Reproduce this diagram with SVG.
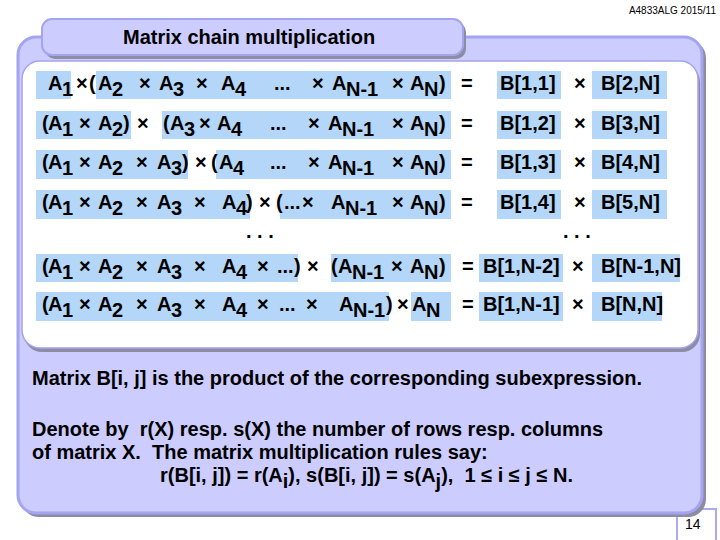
<svg xmlns="http://www.w3.org/2000/svg" width="720" height="540" viewBox="0 0 720 540">
<style>
.t{font-family:"Liberation Sans",Arial,sans-serif;font-weight:bold;font-size:20px;fill:#000}
.hl{fill:#b4d6f8}
.lav{fill:#ccccff;stroke:#a4a4f0;stroke-width:3}
.sh{fill:#8c8ca2}
.pre{white-space:pre}
</style>
<rect width="720" height="540" fill="#ffffff"/>
<text x="716" y="14" text-anchor="end" style="font-family:'Liberation Sans',Arial,sans-serif;font-size:10px;fill:#000">A4833ALG 2015/11</text>

<g id="page-number">
<rect x="677" y="509" width="39" height="34" fill="#ffffff" stroke="#aaaaee" stroke-width="2"/>
<text x="685" y="529" style="font-family:'Liberation Sans',Arial,sans-serif;font-size:14px;fill:#000">14</text>
</g>

<g id="panel">
<rect class="sh" x="21" y="40" width="685" height="477" rx="18"/>
<rect class="lav" x="18" y="37" width="684" height="476" rx="18"/>
<rect class="sh" x="24" y="64" width="676" height="288" rx="18"/>
<rect x="22" y="61" width="676" height="287" rx="18" fill="#ffffff" stroke="#a4a4f0" stroke-width="1.5"/>
</g>

<g id="title">
<rect class="sh" x="45" y="22" width="421" height="37" rx="10"/>
<rect class="lav" x="42" y="19" width="421" height="36" rx="10" style="stroke-width:2"/>
<text class="t" x="123" y="44">Matrix chain multiplication</text>
</g>

<g id="row1">
<rect class="hl" x="36" y="71" width="35" height="28"/>
<rect class="hl" x="96" y="71" width="355" height="28"/>
<rect class="hl" x="497" y="71" width="64" height="28"/>
<rect class="hl" x="592" y="71" width="75" height="28"/>
<text class="t"><tspan x="48" y="90">A</tspan><tspan x="62" y="96">1</tspan><tspan x="76" y="90">×</tspan><tspan x="89" y="90">(</tspan><tspan x="98" y="90">A</tspan><tspan x="112" y="96">2</tspan><tspan x="139" y="90">×</tspan><tspan x="159" y="90">A</tspan><tspan x="173" y="96">3</tspan><tspan x="196" y="90">×</tspan><tspan x="221" y="90">A</tspan><tspan x="235" y="96">4</tspan><tspan x="274" y="90">...</tspan><tspan x="312" y="90">×</tspan><tspan x="332" y="90">A</tspan><tspan x="346" y="96">N-1</tspan><tspan x="392" y="90">×</tspan><tspan x="410" y="90">A</tspan><tspan x="424" y="96">N</tspan><tspan x="439" y="90">)</tspan><tspan x="461" y="90">=</tspan><tspan x="500" y="90">B[1,1]</tspan><tspan x="574" y="90">×</tspan><tspan x="601" y="90">B[2,N]</tspan></text>
</g>

<g id="row2">
<rect class="hl" x="36" y="111" width="95" height="28"/>
<rect class="hl" x="162" y="111" width="289" height="28"/>
<rect class="hl" x="497" y="111" width="64" height="28"/>
<rect class="hl" x="592" y="111" width="75" height="28"/>
<text class="t"><tspan x="42" y="130">(</tspan><tspan x="48" y="130">A</tspan><tspan x="62" y="136">1</tspan><tspan x="79" y="130">×</tspan><tspan x="98" y="130">A</tspan><tspan x="112" y="136">2</tspan><tspan x="123" y="130">)</tspan><tspan x="137" y="130">×</tspan><tspan x="163" y="130">(</tspan><tspan x="170" y="130">A</tspan><tspan x="184" y="136">3</tspan><tspan x="199" y="130">×</tspan><tspan x="217" y="130">A</tspan><tspan x="231" y="136">4</tspan><tspan x="270" y="130">...</tspan><tspan x="308" y="130">×</tspan><tspan x="328" y="130">A</tspan><tspan x="342" y="136">N-1</tspan><tspan x="392" y="130">×</tspan><tspan x="410" y="130">A</tspan><tspan x="424" y="136">N</tspan><tspan x="439" y="130">)</tspan><tspan x="461" y="130">=</tspan><tspan x="500" y="130">B[1,2]</tspan><tspan x="574" y="130">×</tspan><tspan x="601" y="130">B[3,N]</tspan></text>
</g>

<g id="row3">
<rect class="hl" x="36" y="150" width="152" height="29"/>
<rect class="hl" x="216" y="150" width="235" height="29"/>
<rect class="hl" x="497" y="150" width="64" height="29"/>
<rect class="hl" x="592" y="150" width="75" height="29"/>
<text class="t"><tspan x="42" y="169">(</tspan><tspan x="48" y="169">A</tspan><tspan x="62" y="175">1</tspan><tspan x="79" y="169">×</tspan><tspan x="98" y="169">A</tspan><tspan x="112" y="175">2</tspan><tspan x="136" y="169">×</tspan><tspan x="157" y="169">A</tspan><tspan x="171" y="175">3</tspan><tspan x="182" y="169">)</tspan><tspan x="195" y="169">×</tspan><tspan x="211" y="169">(</tspan><tspan x="219" y="169">A</tspan><tspan x="233" y="175">4</tspan><tspan x="270" y="169">...</tspan><tspan x="308" y="169">×</tspan><tspan x="328" y="169">A</tspan><tspan x="342" y="175">N-1</tspan><tspan x="392" y="169">×</tspan><tspan x="410" y="169">A</tspan><tspan x="424" y="175">N</tspan><tspan x="439" y="169">)</tspan><tspan x="461" y="169">=</tspan><tspan x="500" y="169">B[1,3]</tspan><tspan x="574" y="169">×</tspan><tspan x="601" y="169">B[4,N]</tspan></text>
</g>

<g id="row4">
<rect class="hl" x="36" y="190" width="214" height="29"/>
<rect class="hl" x="280" y="190" width="171" height="29"/>
<rect class="hl" x="497" y="190" width="64" height="29"/>
<rect class="hl" x="592" y="190" width="75" height="29"/>
<text class="t"><tspan x="42" y="209">(</tspan><tspan x="48" y="209">A</tspan><tspan x="62" y="215">1</tspan><tspan x="79" y="209">×</tspan><tspan x="98" y="209">A</tspan><tspan x="112" y="215">2</tspan><tspan x="136" y="209">×</tspan><tspan x="157" y="209">A</tspan><tspan x="171" y="215">3</tspan><tspan x="194" y="209">×</tspan><tspan x="222" y="209">A</tspan><tspan x="236" y="215">4</tspan><tspan x="246" y="209">)</tspan><tspan x="259" y="209">×</tspan><tspan x="276" y="209">(</tspan><tspan x="284" y="209">...</tspan><tspan x="302" y="209">×</tspan><tspan x="331" y="209">A</tspan><tspan x="345" y="215">N-1</tspan><tspan x="392" y="209">×</tspan><tspan x="410" y="209">A</tspan><tspan x="424" y="215">N</tspan><tspan x="439" y="209">)</tspan><tspan x="461" y="209">=</tspan><tspan x="500" y="209">B[1,4]</tspan><tspan x="574" y="209">×</tspan><tspan x="601" y="209">B[5,N]</tspan></text>
</g>

<g id="ellipsis">
<text class="t pre" x="246" y="238" xml:space="preserve">. . .</text>
<text class="t pre" x="563" y="238" xml:space="preserve">. . .</text>
</g>

<g id="row5">
<rect class="hl" x="36" y="254" width="262" height="28"/>
<rect class="hl" x="331" y="254" width="120" height="28"/>
<rect class="hl" x="479" y="254" width="84" height="28"/>
<rect class="hl" x="592" y="254" width="88" height="28"/>
<text class="t"><tspan x="42" y="273">(</tspan><tspan x="48" y="273">A</tspan><tspan x="62" y="279">1</tspan><tspan x="79" y="273">×</tspan><tspan x="98" y="273">A</tspan><tspan x="112" y="279">2</tspan><tspan x="136" y="273">×</tspan><tspan x="157" y="273">A</tspan><tspan x="171" y="279">3</tspan><tspan x="194" y="273">×</tspan><tspan x="222" y="273">A</tspan><tspan x="236" y="279">4</tspan><tspan x="257" y="273">×</tspan><tspan x="277" y="273">...</tspan><tspan x="294" y="273">)</tspan><tspan x="307" y="273">×</tspan><tspan x="331" y="273">(</tspan><tspan x="338" y="273">A</tspan><tspan x="352" y="279">N-1</tspan><tspan x="391" y="273">×</tspan><tspan x="410" y="273">A</tspan><tspan x="424" y="279">N</tspan><tspan x="439" y="273">)</tspan><tspan x="462" y="273">=</tspan><tspan x="483" y="273">B[1,N-2]</tspan><tspan x="572" y="273">×</tspan><tspan x="601" y="273">B[N-1,N]</tspan></text>
</g>

<g id="row6">
<rect class="hl" x="36" y="292" width="353" height="29"/>
<rect class="hl" x="411" y="292" width="40" height="29"/>
<rect class="hl" x="479" y="292" width="84" height="29"/>
<rect class="hl" x="592" y="292" width="70" height="29"/>
<text class="t"><tspan x="42" y="311">(</tspan><tspan x="48" y="311">A</tspan><tspan x="62" y="317">1</tspan><tspan x="79" y="311">×</tspan><tspan x="98" y="311">A</tspan><tspan x="112" y="317">2</tspan><tspan x="136" y="311">×</tspan><tspan x="157" y="311">A</tspan><tspan x="171" y="317">3</tspan><tspan x="194" y="311">×</tspan><tspan x="222" y="311">A</tspan><tspan x="236" y="317">4</tspan><tspan x="257" y="311">×</tspan><tspan x="279" y="311">...</tspan><tspan x="306" y="311">×</tspan><tspan x="339" y="311">A</tspan><tspan x="353" y="317">N-1</tspan><tspan x="386" y="311">)</tspan><tspan x="397" y="311">×</tspan><tspan x="412" y="311">A</tspan><tspan x="426" y="317">N</tspan><tspan x="462" y="311">=</tspan><tspan x="483" y="311">B[1,N-1]</tspan><tspan x="572" y="311">×</tspan><tspan x="601" y="311">B[N,N]</tspan></text>
</g>

<g id="notes">
<text class="t pre" x="32" y="385" xml:space="preserve">Matrix B[i, j] is the product of the corresponding subexpression.</text>
<text class="t pre" x="32" y="436" xml:space="preserve">Denote by  r(X) resp. s(X) the number of rows resp. columns</text>
<text class="t pre" x="32" y="459" xml:space="preserve">of matrix X.  The matrix multiplication rules say:</text>
<text class="t pre" x="160" y="482" xml:space="preserve">r(B[i, j]) = r(A<tspan dy="6">i</tspan><tspan dy="-6">), s(B[i, j]) = s(A</tspan><tspan dy="6">j</tspan><tspan dy="-6">),  1 ≤ i ≤ j ≤ N.</tspan></text>
</g>
</svg>
